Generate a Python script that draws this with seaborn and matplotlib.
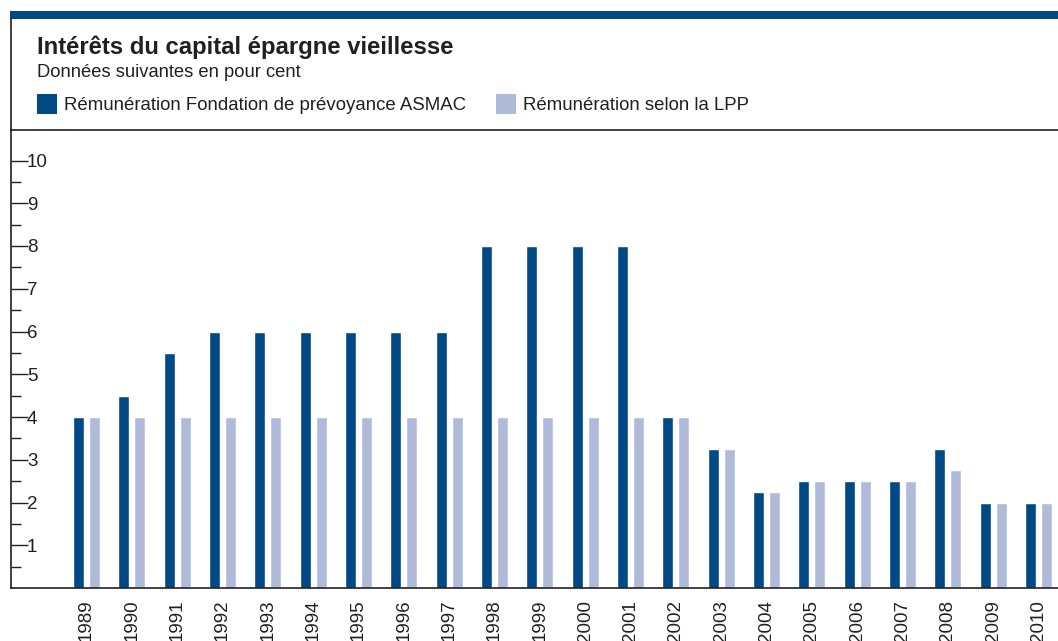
import matplotlib
matplotlib.use("Agg")
import matplotlib.pyplot as plt
import seaborn as sns
import pandas as pd
from matplotlib.lines import Line2D
from matplotlib.patches import Rectangle
from matplotlib.ticker import FixedLocator

years = [str(y) for y in range(1989, 2011)]
asmac = [4, 4.5, 5.5, 6, 6, 6, 6, 6, 6, 8, 8, 8, 8, 4, 3.25, 2.25, 2.5, 2.5, 2.5, 3.25, 2, 2]
lpp = [4, 4, 4, 4, 4, 4, 4, 4, 4, 4, 4, 4, 4, 4, 3.25, 2.25, 2.5, 2.5, 2.5, 2.75, 2, 2]
series_names = ["Rémunération Fondation de prévoyance ASMAC", "Rémunération selon la LPP"]
colors = ["#004985", "#B0BBD9"]
title = "Intérêts du capital épargne vieillesse"
subtitle = "Données suivantes en pour cent"
yticks = [1, 2, 3, 4, 5, 6, 7, 8, 9, 10]
yminor = [0.5, 1.5, 2.5, 3.5, 4.5, 5.5, 6.5, 7.5, 8.5, 9.5]

sns.set_style("white")
plt.rcParams["font.family"] = ["Liberation Sans", "DejaVu Sans"]
txt = "#231F20"

df = pd.DataFrame({
    "year": years * 2,
    "value": asmac + lpp,
    "serie": [series_names[0]] * len(years) + [series_names[1]] * len(years),
})

W, H = 1058, 641
fig = plt.figure(figsize=(W / 100, H / 100), dpi=100)
ax = fig.add_axes([11 / W, 1 - 588 / H, (W - 11) / W, (588 - 130) / H])

sns.barplot(data=df, x="year", y="value", hue="serie", palette=colors,
            width=0.7, gap=0.31, ax=ax, legend=False, saturation=1)

ax.set_xlim(-1.666, 21.43)
ax.set_ylim(0, (588 - 130) / 42.75)
ax.set_xlabel("")
ax.set_ylabel("")
for s in ["top", "right"]:
    ax.spines[s].set_visible(False)
for s in ["left", "bottom"]:
    ax.spines[s].set_color(txt)
    ax.spines[s].set_linewidth(1.2)

ax.set_yticks(yticks)
ax.yaxis.set_minor_locator(FixedLocator(yminor))
ax.tick_params(axis="y", which="major", direction="in", length=12, width=1, color=txt,
               labelsize=13.5, labelcolor=txt, pad=-11.5, left=True)
ax.tick_params(axis="y", which="minor", direction="in", length=7, width=1, color=txt, left=True)
for lab in ax.get_yticklabels():
    lab.set_horizontalalignment("left")
ax.tick_params(axis="x", which="both", bottom=False, labelsize=13.5, labelcolor=txt,
               labelrotation=90, pad=5)

# frame decorations
fig.add_artist(Rectangle((10 / W, 1 - 19 / H), (W - 10) / W, 8 / H,
                         transform=fig.transFigure, color="#004985", lw=0))
fig.add_artist(Line2D([11 / W, 11 / W], [1 - 19 / H, 1 - 130 / H],
                      transform=fig.transFigure, color=txt, lw=1.2))
fig.add_artist(Line2D([11 / W, 1], [1 - 130 / H, 1 - 130 / H],
                      transform=fig.transFigure, color=txt, lw=1.2))

fig.text(37 / W, 1 - 54 / H, title, fontsize=17.2, fontweight="bold", color=txt)
fig.text(37 / W, 1 - 77 / H, subtitle, fontsize=13.2, color=txt)

# legend
sq = 20
fig.add_artist(Rectangle((37 / W, 1 - 114 / H), sq / W, sq / H, transform=fig.transFigure,
                         color=colors[0], lw=0))
fig.text(64 / W, 1 - 105 / H, series_names[0], fontsize=13.4, color=txt, va="center")
fig.add_artist(Rectangle((496 / W, 1 - 114 / H), sq / W, sq / H, transform=fig.transFigure,
                         color=colors[1], lw=0))
fig.text(523 / W, 1 - 105 / H, series_names[1], fontsize=13.4, color=txt, va="center")

fig.savefig("out.png", dpi=100)
